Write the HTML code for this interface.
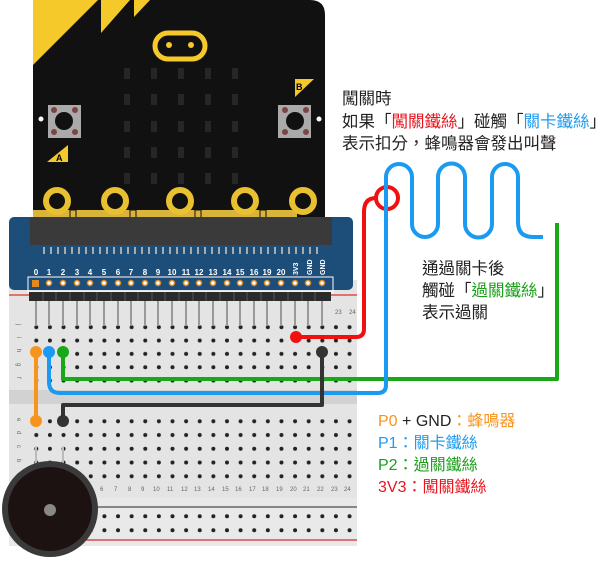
<!DOCTYPE html>
<html><head><meta charset="utf-8"><style>
body{margin:0;background:#fff;width:608px;height:561px;overflow:hidden}
svg{display:block}
.t{font-family:"Liberation Sans","Noto Sans CJK TC",sans-serif;font-size:16.5px;fill:#222}
.l{font-family:"Liberation Sans","Noto Sans CJK TC",sans-serif;font-size:16px}
.pl{font-family:"Liberation Sans",sans-serif;font-size:8px;font-weight:bold;fill:#fff;text-anchor:middle}
.cn{font-family:"Liberation Sans",sans-serif;font-size:6px;fill:#666}
</style></head><body>
<svg width="608" height="561" viewBox="0 0 608 561" xmlns="http://www.w3.org/2000/svg">
<defs>
<pattern id="h" x="29.5" y="320.5" width="13.62" height="13.35" patternUnits="userSpaceOnUse"><circle cx="6.8" cy="6.7" r="2" fill="#222"/></pattern>
<pattern id="h2" x="29.5" y="414.5" width="13.62" height="13.75" patternUnits="userSpaceOnUse"><circle cx="6.8" cy="6.8" r="2" fill="#222"/></pattern>
<pattern id="h3" x="29.5" y="509.5" width="13.62" height="14" patternUnits="userSpaceOnUse"><circle cx="6.8" cy="6.7" r="2" fill="#222"/></pattern>
</defs>
<rect x="9" y="280" width="348" height="266" fill="#e4e4e4"/>
<rect x="9" y="390" width="348" height="14" fill="#d2d2d2"/>
<rect x="9" y="498" width="348" height="48" fill="#e9e9e9"/>
<line x1="9" y1="295" x2="357" y2="295" stroke="#d00" stroke-width="1"/>
<line x1="90" y1="507" x2="357" y2="507" stroke="#222" stroke-width="1"/>
<line x1="80" y1="540" x2="357" y2="540" stroke="#c00" stroke-width="1"/>
<rect x="29" y="320" width="328" height="67" fill="url(#h)"/>
<rect x="29" y="414" width="328" height="69" fill="url(#h2)"/>
<rect x="29" y="509" width="328" height="28" fill="url(#h3)"/>
<g class="cn" font-size="8">
<text x="17" y="330" transform="rotate(90 20 327)">j</text>
<text x="17" y="343" transform="rotate(90 20 340)">i</text>
<text x="17" y="355" transform="rotate(90 20 352)">h</text>
<text x="17" y="369" transform="rotate(90 20 366)">g</text>
<text x="17" y="383" transform="rotate(90 20 380)">f</text>
<text x="17" y="424" transform="rotate(90 20 421)">e</text>
<text x="17" y="437" transform="rotate(90 20 434)">d</text>
<text x="17" y="451" transform="rotate(90 20 448)">c</text>
<text x="17" y="465" transform="rotate(90 20 462)">b</text>
<text x="17" y="479" transform="rotate(90 20 476)">a</text>
</g>
<g class="cn">
<text x="335" y="314">23</text><text x="349" y="314">24</text>
<text x="100" y="491">6</text><text x="114" y="491">7</text><text x="128" y="491">8</text><text x="141" y="491">9</text><text x="153" y="491">10</text><text x="167" y="491">11</text><text x="181" y="491">12</text><text x="194" y="491">13</text><text x="208" y="491">14</text><text x="222" y="491">15</text><text x="235" y="491">16</text><text x="249" y="491">17</text><text x="262" y="491">18</text><text x="276" y="491">19</text><text x="290" y="491">20</text><text x="303" y="491">21</text><text x="317" y="491">22</text><text x="331" y="491">23</text><text x="344" y="491">24</text>
</g>
<g stroke="#999" stroke-width="2">
<path d="M36 300V326M49 300V326M63 300V326M77 300V326M90 300V326M104 300V326M118 300V326M131 300V326M145 300V326M158 300V326M172 300V326M186 300V326M199 300V326M213 300V326M227 300V326M240 300V326M254 300V326M267 300V326M281 300V326M295 300V326M308 300V326M322 300V326"/>
</g>
<path d="M33 0H310Q325 0 325 15V218H33Z" fill="#111"/>
<path d="M33 0H98L33 65Z" fill="#f5c92a"/>
<path d="M101 0H130L101 33Z" fill="#f5c92a"/>
<path d="M134 0H150L134 17Z" fill="#f5c92a"/>
<rect x="155" y="33" width="50" height="26" rx="13" fill="none" stroke="#f5c92a" stroke-width="5"/>
<circle cx="169" cy="45" r="3" fill="#f5c92a"/><circle cx="191" cy="45" r="3" fill="#f5c92a"/>
<g fill="#262626">
<rect x="124" y="68" width="6" height="11"/><rect x="151" y="68" width="6" height="11"/><rect x="178" y="68" width="6" height="11"/><rect x="205" y="68" width="6" height="11"/><rect x="232" y="68" width="6" height="11"/>
<rect x="124" y="94" width="6" height="11"/><rect x="151" y="94" width="6" height="11"/><rect x="178" y="94" width="6" height="11"/><rect x="205" y="94" width="6" height="11"/><rect x="232" y="94" width="6" height="11"/>
<rect x="124" y="121" width="6" height="11"/><rect x="151" y="121" width="6" height="11"/><rect x="178" y="121" width="6" height="11"/><rect x="205" y="121" width="6" height="11"/><rect x="232" y="121" width="6" height="11"/>
<rect x="124" y="147" width="6" height="11"/><rect x="151" y="147" width="6" height="11"/><rect x="178" y="147" width="6" height="11"/><rect x="205" y="147" width="6" height="11"/><rect x="232" y="147" width="6" height="11"/>
<rect x="124" y="173" width="6" height="11"/><rect x="151" y="173" width="6" height="11"/><rect x="178" y="173" width="6" height="11"/><rect x="205" y="173" width="6" height="11"/><rect x="232" y="173" width="6" height="11"/>
</g>
<rect x="48" y="105" width="33" height="33" fill="#aaa"/><circle cx="64" cy="121" r="9" fill="#111"/>
<g fill="#7a4545"><circle cx="54" cy="110" r="3"/><circle cx="75" cy="110" r="3"/><circle cx="54" cy="132" r="3"/><circle cx="75" cy="132" r="3"/></g>
<rect x="278" y="105" width="33" height="33" fill="#aaa"/><circle cx="295" cy="121" r="9" fill="#111"/>
<g fill="#7a4545"><circle cx="285" cy="110" r="3"/><circle cx="306" cy="110" r="3"/><circle cx="285" cy="132" r="3"/><circle cx="306" cy="132" r="3"/></g>
<circle cx="41" cy="119" r="2.5" fill="#fff"/><circle cx="319" cy="119" r="2.5" fill="#fff"/>
<path d="M47 162L68 145V162Z" fill="#f5c92a"/><text x="56" y="161" font-family="Liberation Sans" font-size="9" font-weight="bold">A</text>
<path d="M295 79H314L295 97Z" fill="#f5c92a"/><text x="296" y="90" font-family="Liberation Sans" font-size="9" font-weight="bold">B</text>
<rect x="33" y="210" width="264" height="8" fill="#d8b43a"/>
<g fill="#d8b43a" stroke="#111" stroke-width="1"><rect x="70" y="210" width="6" height="8"/><rect x="130" y="210" width="6" height="8"/><rect x="195" y="210" width="6" height="8"/><rect x="260" y="210" width="6" height="8"/></g>
<g fill="#111" stroke="#e8c030" stroke-width="6">
<circle cx="57" cy="201" r="11"/><circle cx="115" cy="201" r="11"/><circle cx="180" cy="201" r="11"/><circle cx="245" cy="201" r="11"/><circle cx="303" cy="201" r="11"/>
</g>
<rect x="9" y="217" width="344" height="73" rx="5" fill="#1d4e7a"/>
<rect x="30" y="217" width="302" height="28" fill="#3a3a3a"/>
<g stroke="#aaa" stroke-width="2"><path d="M44 247V254M51 247V254M58 247V254M65 247V254M72 247V254M79 247V254M86 247V254M93 247V254M100 247V254M107 247V254M114 247V254M121 247V254M128 247V254M135 247V254M142 247V254M149 247V254M156 247V254M163 247V254M170 247V254M177 247V254M184 247V254M191 247V254M198 247V254M205 247V254M212 247V254M219 247V254M226 247V254M233 247V254M240 247V254M247 247V254M254 247V254M261 247V254M268 247V254M275 247V254M282 247V254M289 247V254M296 247V254M303 247V254M310 247V254M317 247V254"/></g>
<g class="pl">
<text x="36" y="275">0</text><text x="49" y="275">1</text><text x="63" y="275">2</text><text x="77" y="275">3</text><text x="90" y="275">4</text><text x="104" y="275">5</text><text x="118" y="275">6</text><text x="131" y="275">7</text><text x="145" y="275">8</text><text x="158" y="275">9</text><text x="172" y="275">10</text><text x="186" y="275">11</text><text x="199" y="275">12</text><text x="213" y="275">13</text><text x="227" y="275">14</text><text x="240" y="275">15</text><text x="254" y="275">16</text><text x="267" y="275">19</text><text x="281" y="275">20</text>
<text transform="translate(298 275) rotate(-90)" text-anchor="start" font-size="7">3V3</text>
<text transform="translate(312 275) rotate(-90)" text-anchor="start" font-size="7">GND</text>
<text transform="translate(325 275) rotate(-90)" text-anchor="start" font-size="7">GND</text>
</g>
<rect x="28" y="277" width="305" height="15" fill="none" stroke="#fff" stroke-width="1"/>
<g fill="#fff" stroke="#e08a20" stroke-width="1.5">
<circle cx="49" cy="283" r="2.5"/><circle cx="63" cy="283" r="2.5"/><circle cx="77" cy="283" r="2.5"/><circle cx="90" cy="283" r="2.5"/><circle cx="104" cy="283" r="2.5"/><circle cx="118" cy="283" r="2.5"/><circle cx="131" cy="283" r="2.5"/><circle cx="145" cy="283" r="2.5"/><circle cx="158" cy="283" r="2.5"/><circle cx="172" cy="283" r="2.5"/><circle cx="186" cy="283" r="2.5"/><circle cx="199" cy="283" r="2.5"/><circle cx="213" cy="283" r="2.5"/><circle cx="227" cy="283" r="2.5"/><circle cx="240" cy="283" r="2.5"/><circle cx="254" cy="283" r="2.5"/><circle cx="267" cy="283" r="2.5"/><circle cx="281" cy="283" r="2.5"/><circle cx="295" cy="283" r="2.5"/><circle cx="308" cy="283" r="2.5"/><circle cx="322" cy="283" r="2.5"/>
</g>
<rect x="32" y="280" width="7" height="7" fill="#e08a20"/>
<rect x="29" y="292" width="302" height="9" fill="#2b2b2b"/>
<g stroke="#555" stroke-width="1"><path d="M43 292V301M56 292V301M70 292V301M84 292V301M97 292V301M111 292V301M125 292V301M138 292V301M152 292V301M165 292V301M179 292V301M193 292V301M206 292V301M220 292V301M234 292V301M247 292V301M261 292V301M274 292V301M288 292V301M302 292V301M315 292V301"/></g>
<g fill="none" stroke-width="4" stroke-linejoin="round">
<path d="M296 337H356Q364 337 364 329V212Q364 198 376 198" stroke="#f01010"/>
<circle cx="387" cy="198" r="11" stroke="#f01010"/>
<path d="M63 352V379H557V223" stroke="#18a818"/>
<path d="M49 352V382Q49 393 60 393H378Q386 393 386 385V177A13 13 0 0 1 412 177V224A13 13 0 0 0 438 224V177A13 13 0 0 1 465 177V224A13 13 0 0 0 492 224V177A13 13 0 0 1 518 177V222Q518 237 533 237H543" stroke="#1a9af0"/>
<path d="M322 352V405H63V421" stroke="#333"/>
<path d="M36 352V421" stroke="#f7941d"/>
</g>
<circle cx="296" cy="337" r="6" fill="#f01010"/>
<circle cx="36" cy="352" r="6" fill="#f7941d"/>
<circle cx="49" cy="352" r="6" fill="#1a9af0"/>
<circle cx="63" cy="352" r="6" fill="#18a818"/>
<circle cx="322" cy="352" r="6" fill="#333"/>
<circle cx="36" cy="421" r="6" fill="#f7941d"/>
<circle cx="63" cy="421" r="6" fill="#333"/>
<path d="M36 447V465M63 447V465" stroke="#bbb" stroke-width="2"/>
<circle cx="50" cy="509" r="48" fill="#3a3a3a"/>
<circle cx="50" cy="509" r="42" fill="#1c1212"/>
<circle cx="50" cy="510" r="6" fill="#888"/>
<g class="t">
<text x="342" y="104">闖關時</text>
<text x="342" y="127">如果「<tspan fill="#e8141e">闖關鐵絲</tspan>」碰觸「<tspan fill="#1e9bf0">關卡鐵絲</tspan>」</text>
<text x="342" y="149">表示扣分，蜂鳴器會發出叫聲</text>
<text x="422" y="274">通過關卡後</text>
<text x="422" y="296">觸碰「<tspan fill="#1aa01a">過關鐵絲</tspan>」</text>
<text x="422" y="318">表示過關</text>
</g>
<g class="l">
<text x="378" y="426" fill="#222"><tspan fill="#f7941d">P0</tspan> + GND<tspan fill="#f7941d">：蜂鳴器</tspan></text>
<text x="378" y="448" fill="#1e9bf0">P1：關卡鐵絲</text>
<text x="378" y="470" fill="#1aa01a">P2：過關鐵絲</text>
<text x="378" y="492" fill="#e8141e">3V3：闖關鐵絲</text>
</g>
</svg>
</body></html>
